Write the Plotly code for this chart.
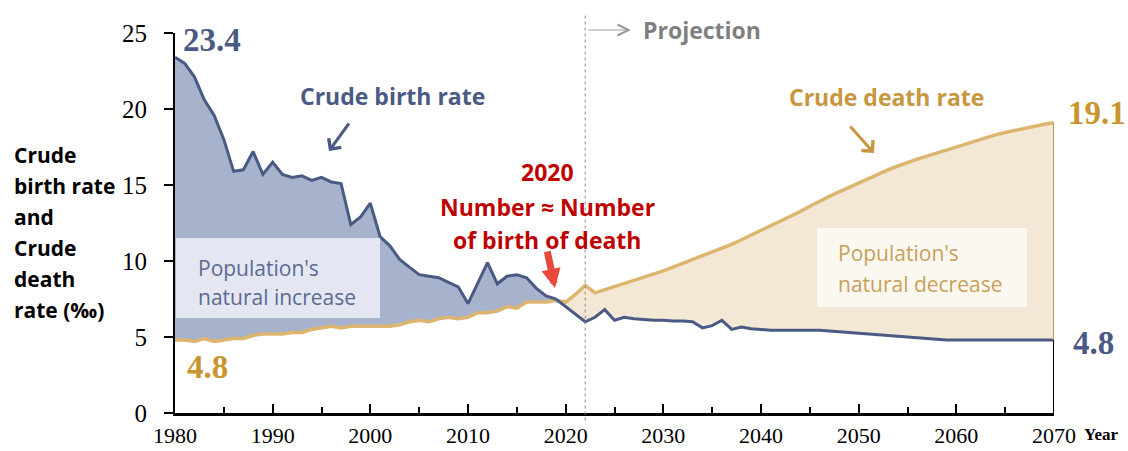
import plotly.graph_objects as go

# ---------------- data ----------------
years = list(range(1980, 2071))

birth_rate = [
    23.4, 23.0, 22.1, 20.6, 19.6, 18.0, 15.9, 16.0, 17.2, 15.7,   # 1980s
    16.5, 15.7, 15.5, 15.6, 15.3, 15.5, 15.2, 15.1, 12.4, 12.9,   # 1990s
    13.8, 11.6, 11.0, 10.1, 9.6, 9.1, 9.0, 8.9, 8.6, 8.3,         # 2000s
    7.2, 8.5, 9.9, 8.5, 9.0, 9.1, 8.9, 8.2, 7.7, 7.5,             # 2010s
    7.0, 6.5, 6.0, 6.3, 6.8, 6.1, 6.3, 6.2, 6.15, 6.1,            # 2020s
    6.1, 6.05, 6.05, 6.0, 5.6, 5.75, 6.1, 5.5, 5.65, 5.55,        # 2030s
    5.5, 5.45, 5.45, 5.45, 5.45, 5.45, 5.45, 5.4, 5.35, 5.3,      # 2040s
    5.25, 5.2, 5.15, 5.1, 5.05, 5.0, 4.95, 4.9, 4.85, 4.8,        # 2050s
    4.8, 4.8, 4.8, 4.8, 4.8, 4.8, 4.8, 4.8, 4.8, 4.8,             # 2060s
    4.8,                                                          # 2070
]

death_rate = [
    4.8, 4.8, 4.7, 4.9, 4.7, 4.8, 4.9, 4.9, 5.1, 5.2,             # 1980s
    5.2, 5.2, 5.3, 5.3, 5.5, 5.6, 5.7, 5.6, 5.7, 5.7,             # 1990s
    5.7, 5.7, 5.7, 5.8, 6.0, 6.1, 6.0, 6.2, 6.3, 6.2,             # 2000s
    6.3, 6.6, 6.6, 6.7, 7.0, 6.9, 7.3, 7.3, 7.3, 7.4,             # 2010s
    7.3, 7.8, 8.4, 7.9, 8.1, 8.35, 8.55, 8.75, 8.95, 9.15,        # 2020s
    9.35, 9.6, 9.85, 10.05, 10.3, 10.55, 10.8, 11.1, 11.4, 11.7,  # 2030s
    12.0, 12.3, 12.6, 12.95, 13.25, 13.6, 13.95, 14.25, 14.55, 14.85,  # 2040s
    15.1, 15.4, 15.7, 16.0, 16.25, 16.5, 16.7, 16.9, 17.1, 17.35,      # 2050s
    17.55, 17.75, 17.9, 18.1, 18.3, 18.45, 18.6, 18.75, 18.9, 19.0,    # 2060s
    19.1,                                                              # 2070
]

projection_start = 2022
x_ticks = list(range(1980, 2071, 10))
y_ticks = [0, 5, 10, 15, 20, 25]

# ---------------- styles ----------------
BLUE_LINE = "#4A5A85"
BLUE_FILL = "#A7B2CC"
GOLD_LINE = "#DDB56F"
GOLD_FILL = "#F3E8D6"
GOLD_TEXT = "#C8952F"
RED_TEXT = "#C00000"
SANS = "Open Sans"
SERIF = "Liberation Serif"

W, H = 1128, 451
L, R, T, B = 175, 74, 33, 38
PW, PH = W - L - R, H - T - B


def px(xp):
    return (xp - L) / PW


def py(yp):
    return (H - B - yp) / PH


# insert crossing points so that the two fills meet exactly
def with_crossings(x, a, b):
    xs, aa, bb = [x[0]], [a[0]], [b[0]]
    for i in range(1, len(x)):
        d0, d1 = a[i - 1] - b[i - 1], a[i] - b[i]
        if d0 * d1 < 0:
            t = d0 / (d0 - d1)
            xc = x[i - 1] + t * (x[i] - x[i - 1])
            yc = a[i - 1] + t * (a[i] - a[i - 1])
            xs.append(xc); aa.append(yc); bb.append(yc)
        xs.append(x[i]); aa.append(a[i]); bb.append(b[i])
    return xs, aa, bb


xa, ba, da = with_crossings(years, birth_rate, death_rate)
upper = [max(p, q) for p, q in zip(ba, da)]

fig = go.Figure()
# natural increase fill (birth above death)
fig.add_trace(go.Scatter(x=xa, y=da, mode="lines", line=dict(width=0), hoverinfo="skip", showlegend=False))
fig.add_trace(go.Scatter(x=xa, y=upper, mode="lines", line=dict(width=0), fill="tonexty",
                         fillcolor=BLUE_FILL, hoverinfo="skip", showlegend=False))
# natural decrease fill (death above birth)
fig.add_trace(go.Scatter(x=xa, y=ba, mode="lines", line=dict(width=0), hoverinfo="skip", showlegend=False))
fig.add_trace(go.Scatter(x=xa, y=upper, mode="lines", line=dict(width=0), fill="tonexty",
                         fillcolor=GOLD_FILL, hoverinfo="skip", showlegend=False))
# lines
fig.add_trace(go.Scatter(x=years, y=death_rate, mode="lines", name="Crude death rate",
                         line=dict(color=GOLD_LINE, width=3.5), showlegend=False))
fig.add_trace(go.Scatter(x=years, y=birth_rate, mode="lines", name="Crude birth rate",
                         line=dict(color=BLUE_LINE, width=3), showlegend=False))

shapes = [
    # projection divider
    dict(type="line", xref="x", yref="paper", x0=projection_start, x1=projection_start,
         y0=-0.02, y1=py(13), line=dict(color="#8C8C8C", width=1, dash="dot")),
    # text boxes
    dict(type="rect", xref="paper", yref="paper", x0=px(176), x1=px(380), y0=py(318), y1=py(238),
         fillcolor="#E4E7F1", line=dict(width=0), layer="above"),
    dict(type="rect", xref="paper", yref="paper", x0=px(817), x1=px(1027), y0=py(307), y1=py(228),
         fillcolor="#FBF8F1", line=dict(width=0), layer="above"),
    # right edges at the last year
    dict(type="line", xref="x", yref="y", x0=years[-1], x1=years[-1], y0=0, y1=birth_rate[-1],
         line=dict(color="black", width=2)),
    dict(type="line", xref="x", yref="y", x0=years[-1], x1=years[-1], y0=birth_rate[-1], y1=death_rate[-1],
         line=dict(color="#C8963E", width=2)),
]


def txt(text, xp, yp, size, color, family=SANS, bold=True, xanchor="center"):
    t = f"<b>{text}</b>" if bold else text
    return dict(text=t, x=px(xp), y=py(yp), xref="paper", yref="paper", showarrow=False,
                xanchor=xanchor, yanchor="middle", font=dict(size=size, color=color, family=family))


def arrow(xp, yp, ax, ay, color, width, head, size=1.0):
    return dict(text="", x=px(xp), y=py(yp), xref="paper", yref="paper", showarrow=True,
                ax=ax, ay=ay, axref="pixel", ayref="pixel", arrowhead=head, arrowwidth=width,
                arrowsize=size, arrowcolor=color)


annotations = [
    txt("Crude birth rate", 392, 96, 23, BLUE_LINE),
    arrow(329, 151, 21, -29, BLUE_LINE, 3, 4),
    txt("Crude death rate", 886, 97, 23, "#C8963E"),
    arrow(874, 153, -25, -28, "#C8963E", 3, 4),
    txt("2020", 547, 172, 23, RED_TEXT),
    txt("Number ≈ Number", 547, 207, 23, RED_TEXT),
    txt("of birth of death", 547, 240, 23, RED_TEXT),
    arrow(555, 288, -8, -38, "#E8493B", 7, 2, 0.55),
    txt("Projection", 641, 30, 23, "#7F7F7F", xanchor="left"),
    arrow(631, 30, -44, 0, "#9A9A9A", 1, 5, 2.2),
    txt("Population's", 196, 268, 21, "#5B6A93", bold=False, xanchor="left"),
    txt("natural increase", 196, 297, 21, "#5B6A93", bold=False, xanchor="left"),
    txt("Population's", 836, 253, 21, "#C9A05A", bold=False, xanchor="left"),
    txt("natural decrease", 836, 284, 21, "#C9A05A", bold=False, xanchor="left"),
    txt(f"{birth_rate[0]}", 212, 40, 33, BLUE_LINE, family=SERIF),
    txt(f"{death_rate[0]}", 207, 367, 33, GOLD_TEXT, family=SERIF),
    txt(f"{death_rate[-1]}", 1097, 113, 33, GOLD_TEXT, family=SERIF),
    txt(f"{birth_rate[-1]}", 1093, 343, 33, BLUE_LINE, family=SERIF),
    txt("Year", 1082, 434, 17, "black", family=SERIF, xanchor="left"),
]

for line_text, yp in zip(["Crude", "birth rate", "and", "Crude", "death", "rate (‰)"],
                         [155, 186, 217, 248, 279, 310]):
    annotations.append(txt(line_text, 12, yp, 21, "black", xanchor="left"))

fig.update_layout(
    width=W, height=H,
    margin=dict(l=L, r=R, t=T, b=B, autoexpand=False),
    plot_bgcolor="white", paper_bgcolor="white",
    shapes=shapes, annotations=annotations,
    showlegend=False,
    xaxis=dict(range=[years[0], years[-1]], tickvals=x_ticks, ticks="inside", ticklen=9,
               tickwidth=1.5, tickcolor="black", showgrid=False, zeroline=False, automargin=False,
               showline=True, linecolor="black", linewidth=3, ticklabelstandoff=1,
               tickfont=dict(family=SERIF, size=22, color="black"),
               minor=dict(dtick=5, tick0=1980, ticks="inside", ticklen=6, tickcolor="black", tickwidth=1.5)),
    yaxis=dict(range=[0, 25], tickvals=y_ticks, ticks="outside", ticklen=9, tickwidth=1.5,
               tickcolor="black", showgrid=False, zeroline=False, showline=True, automargin=False,
               linecolor="black", linewidth=2, ticklabelstandoff=12,
               tickfont=dict(family=SERIF, size=25, color="black")),
)

fig.write_html("out.html", config={"displayModeBar": False},
               post_script="document.body.style.margin='0';document.body.style.overflow='hidden';")
